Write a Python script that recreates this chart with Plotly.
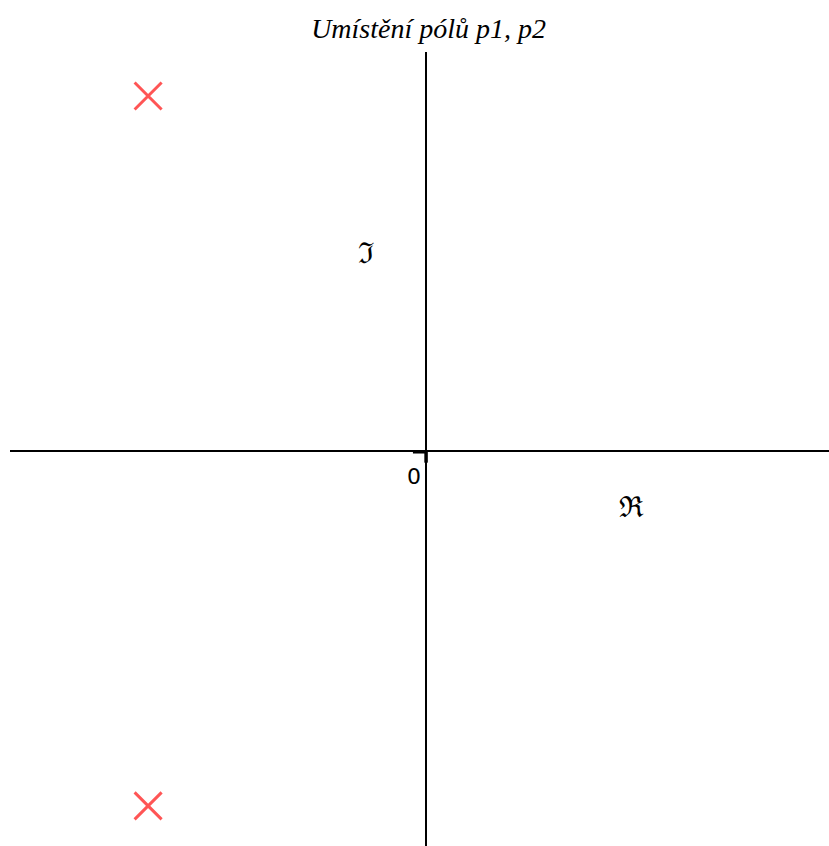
import plotly.graph_objects as go

# Pole locations in the complex plane
pole_names = ["p1", "p2"]
pole_re = [-0.783, -0.783]
pole_im = [1.0, -1.0]

# Visible window of the complex plane
re_range = [-1.172, 1.135]
im_range = [-1.113, 1.124]

fig = go.Figure()

fig.add_trace(go.Scatter(
    x=pole_re, y=pole_im, mode="markers", text=pole_names,
    marker=dict(symbol="x-thin", size=27,
                line=dict(width=3, color="rgba(255,20,20,0.72)")),
    showlegend=False, hoverinfo="text",
))

# Small origin ticks
fig.add_shape(type="line", x0=-0.037, x1=0, y0=-0.003, y1=-0.003,
              line=dict(color="black", width=3))
fig.add_shape(type="line", x0=0.0, x1=0.0, y0=0, y1=-0.033,
              line=dict(color="black", width=3.5))

fig.add_annotation(x=-0.034, y=-0.072, text="0", showarrow=False,
                   font=dict(family="DejaVu Sans", size=22, color="black"))
fig.add_annotation(x=-0.17, y=0.557, text="ℑ", showarrow=False,
                   font=dict(family="DejaVu Serif", size=29, color="black"))
fig.add_annotation(x=0.58, y=-0.158, text="ℜ", showarrow=False,
                   font=dict(family="DejaVu Serif", size=29, color="black"))

fig.update_layout(
    width=829, height=846,
    margin=dict(l=10, r=0, t=52, b=0),
    paper_bgcolor="white", plot_bgcolor="white",
    title=dict(text="<i>Umístění pólů p1, p2</i>", x=0.517, xanchor="center",
               y=0.967, yanchor="middle",
               font=dict(family="Liberation Serif", size=28, color="black")),
    xaxis=dict(range=re_range, showgrid=False, showticklabels=False, ticks="",
               zeroline=True, zerolinecolor="black", zerolinewidth=2,
               showline=False, fixedrange=True),
    yaxis=dict(range=im_range, showgrid=False, showticklabels=False, ticks="",
               zeroline=True, zerolinecolor="black", zerolinewidth=2,
               showline=False, fixedrange=True),
)

fig.write_html("out.html")
